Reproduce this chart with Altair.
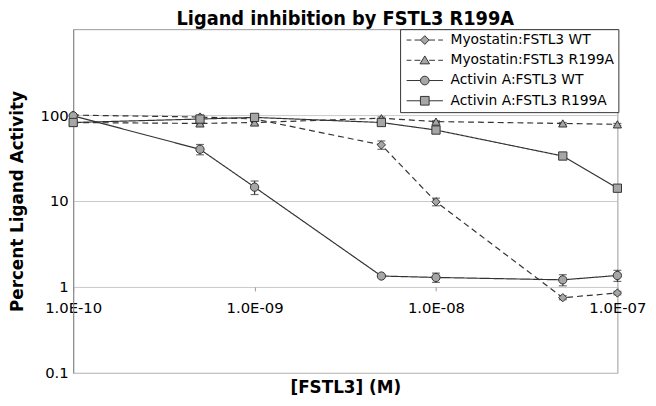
import altair as alt
import pandas as pd

# ---------------- data ----------------
series_names = ["Myostatin:FSTL3 WT", "Myostatin:FSTL3 R199A",
                "Activin A:FSTL3 WT", "Activin A:FSTL3 R199A"]
conc = [1e-10, 5e-10, 1e-9, 5e-9, 1e-8, 5e-8, 1e-7]

myo_wt = [100, 95, 90, 45, 9.8, 0.75, 0.85]
myo_wt_err = [0, 0, 0, 5, 1.0, 0.04, 0.04]
myo_r199a = [82, 80, 82, 92, 84, 80, 78]
myo_r199a_err = [0, 3, 4, 3, 2, 2, 2]
act_wt = [98, 40, 14.5, 1.34, 1.29, 1.21, 1.36]
act_wt_err = [0, 5.5, 2.6, 0.05, 0.16, 0.18, 0.2]
act_r199a = [82, 90, 94, 82, 67, 33.4, 14.1]
act_r199a_err = [0, 4, 4, 3, 2, 1, 0.6]

y_ticks = [0.1, 1, 10, 100]
x_ticks = [1e-10, 1e-9, 1e-8, 1e-7]
x_tick_labels = ["1.0E-10", "1.0E-09", "1.0E-08", "1.0E-07"]

values = [myo_wt, myo_r199a, act_wt, act_r199a]
errors = [myo_wt_err, myo_r199a_err, act_wt_err, act_r199a_err]

rows = []
for name, vals, errs in zip(series_names, values, errors):
    for c, v, e in zip(conc, vals, errs):
        rows.append({"series": name, "conc": c, "val": v, "err": e,
                     "lo": v - e, "hi": v + e})
df = pd.DataFrame(rows)

# ---------------- styles ----------------
FONT = "DejaVu Sans"
LINE = "#333333"
FILL = "#a6a6a6"
Y_TITLE = "Percent Ligand Activity"
X_TITLE = "[FSTL3] (M)"

marker_shapes = ["diamond", "triangle-up", "circle", "square"]
dashes = [[6, 4], [6, 4], [1, 0], [1, 0]]

dash_seg = "M-4.6,0L-3.4,0M-2.6,0L-1.1,0M1.1,0L2.6,0M3.4,0L4.6,0"
solid_seg = "M-4.6,0L-1.1,0M1.1,0L4.6,0"
legend_paths = [
    dash_seg + "M0,-1.1L1.1,0L0,1.1L-1.1,0Z",
    dash_seg + "M0,-1.1L1.2,0.9L-1.2,0.9Z",
    solid_seg + "M1.1,0A1.1,1.1,0,1,1,-1.1,0A1.1,1.1,0,1,1,1.1,0Z",
    solid_seg + "M-1.1,-1.1L1.1,-1.1L1.1,1.1L-1.1,1.1Z",
]

label_expr = ""
for i, lab in enumerate(x_tick_labels[:-1]):
    label_expr += f"datum.value < {x_ticks[i] * 3} ? '{lab}' : "
label_expr += f"'{x_tick_labels[-1]}'"

x_axis = alt.Axis(
    values=x_ticks, labelExpr=label_expr, title=X_TITLE,
    offset=-87, grid=False, domain=False, tickColor="#999999",
    tickSize=4, labelPadding=10, labelFont=FONT, labelFontSize=15,
    labelColor="#000000", labelFlush=False, labelOverlap=False,
    titleFont=FONT, titleFontSize=17, titleFontWeight="bold",
    titleColor="#000000", titleY=94,
)
y_axis = alt.Axis(
    values=y_ticks, format="~g", title=Y_TITLE,
    grid=True, gridColor="#c8c8c8", domainColor="#888888", ticks=False,
    labelPadding=5, labelFont=FONT, labelFontSize=15, labelColor="#000000",
    titleFont=FONT, titleFontSize=17, titleFontWeight="bold",
    titleColor="#000000", titleX=-47, titleBaseline="bottom",
)
x_scale = alt.Scale(type="log", domain=[1e-10, 1e-7], nice=False)
y_scale = alt.Scale(type="log", domain=[0.1, 1000], nice=False)

x_enc = alt.X("conc:Q", scale=x_scale, axis=x_axis, title=X_TITLE)
y_enc = alt.Y("val:Q", scale=y_scale, axis=y_axis, title=Y_TITLE)

base = alt.Chart(df)

lines = base.mark_line(color=LINE, strokeWidth=1.2).encode(
    x=x_enc, y=y_enc,
    strokeDash=alt.StrokeDash("series:N",
                              scale=alt.Scale(domain=series_names, range=dashes),
                              legend=None),
    detail="series:N",
)

errbars = base.transform_filter("datum.err > 0").mark_errorbar(
    ticks={"size": 8}, color=LINE, thickness=1.2
).encode(
    x=alt.X("conc:Q", title=X_TITLE),
    y=alt.Y("lo:Q", title=Y_TITLE),
    y2="hi:Q",
)

points = base.mark_point(filled=True, fill=FILL, stroke=LINE, strokeWidth=1,
                         opacity=1, size=70).encode(
    x=x_enc, y=y_enc,
    shape=alt.Shape("series:N",
                    scale=alt.Scale(domain=series_names, range=marker_shapes),
                    legend=None),
)

# invisible layer (size 0) whose only job is to carry the legend,
# drawn with line + marker symbols
legend_carrier = base.mark_point(filled=False, fill=FILL, stroke=LINE,
                                 color=LINE, strokeWidth=1, opacity=1,
                                 size=0).encode(
    x=x_enc, y=y_enc,
    shape=alt.Shape(
        "series:N",
        scale=alt.Scale(domain=series_names, range=legend_paths),
        legend=alt.Legend(
            title=None, orient="none", legendX=331, legendY=0,
            padding=4, strokeColor="#333333", fillColor="#ffffff",
            labelFont=FONT, labelFontSize=14, labelColor="#000000",
            labelLimit=400, symbolSize=64, symbolOffset=14, labelOffset=19,
            rowPadding=6.5, symbolStrokeWidth=1,
        ),
    ),
)

chart = (
    alt.layer(lines, errbars, points, legend_carrier)
    .resolve_scale(shape="independent")
    .properties(
        width=551, height=348,
        title=alt.Title("Ligand inhibition by FSTL3 R199A",
                        font="DejaVu Sans Condensed, Roboto Condensed, Open Sans Condensed, DejaVu Sans",
                        fontSize=20,
                        fontWeight="bold", color="#000000", anchor="middle",
                        offset=0),
        padding={"left": 66, "top": 19, "right": 31, "bottom": 23},
        autosize=alt.AutoSizeParams(type="none"),
        background="#ffffff",
    )
    .configure_view(stroke="#999999", strokeWidth=1)
)

chart.save("out.html", embed_options={"renderer": "svg", "actions": False})
